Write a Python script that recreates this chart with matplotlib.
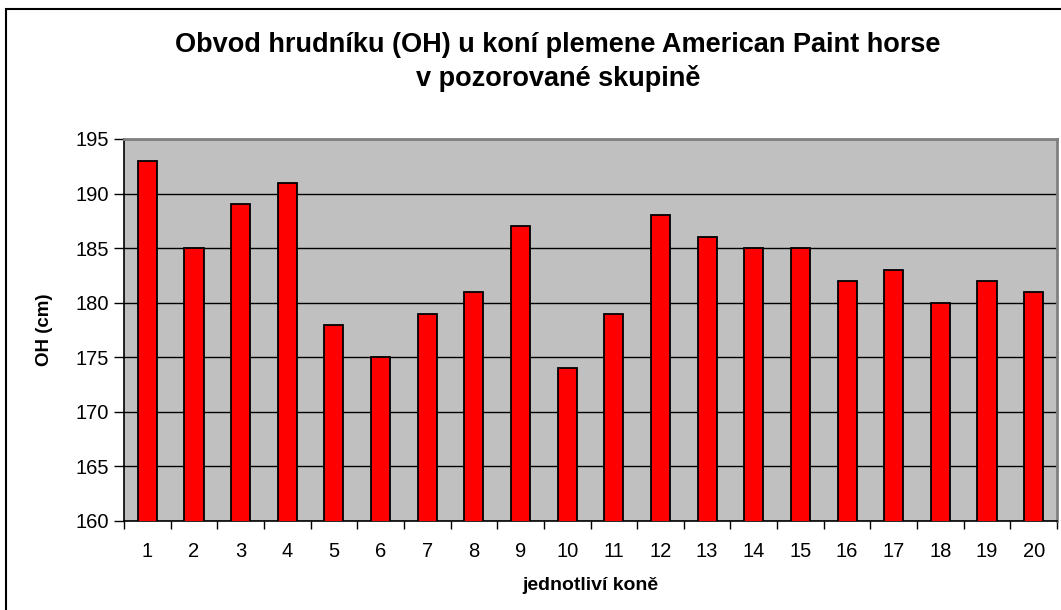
#Obvod hrudniku - bar chart recreation
import numpy as np
import matplotlib.pyplot as plt
from matplotlib.patches import Rectangle

#data
kone = [str(i) for i in range(1, 21)]
oh_cm = [193, 185, 189, 191, 178, 175, 179, 181, 187, 174,
         179, 188, 186, 185, 185, 182, 183, 180, 182, 181]
y_ticks = [160, 165, 170, 175, 180, 185, 190, 195]

plt.rcParams['font.family'] = ['Liberation Sans', 'DejaVu Sans']

fig = plt.figure(figsize=(10.61, 6.1), dpi=100)

#outer chart border
fig.patches.append(Rectangle((6 / 1061, -0.1), 1.2, 1.1 - 9 / 610,
                             transform=fig.transFigure, fill=False,
                             edgecolor='black', linewidth=1.5))

ax = fig.add_axes([124 / 1061, 1 - 521 / 610, (1057 - 124) / 1061, (521 - 139) / 610])
ax.set_facecolor('#c0c0c0')

x = np.arange(len(kone))
ax.bar(x, oh_cm, width=0.41, color='#ff0000', edgecolor='black', linewidth=1.3, zorder=3)

ax.set_xlim(-0.5, len(kone) - 0.5)
ax.set_ylim(160, 195)
ax.set_yticks(y_ticks)
ax.yaxis.grid(True, color='black', linewidth=1.0, zorder=1)
ax.set_axisbelow(True)

ax.set_xticks(x)
ax.set_xticklabels(kone)
ax.set_xticks(np.arange(-0.5, len(kone)), minor=True)
ax.tick_params(axis='x', which='major', length=0, pad=15, labelsize=14.5)
ax.tick_params(axis='x', which='minor', length=6, width=1, direction='out')
ax.tick_params(axis='y', length=7, width=1, direction='out', pad=4, labelsize=14.5)

for s in ['left', 'bottom']:
    ax.spines[s].set_color('black')
    ax.spines[s].set_linewidth(1.2)
for s in ['top', 'right']:
    ax.spines[s].set_color('#808080')
    ax.spines[s].set_linewidth(2)

ax.set_xlabel('jednotliví koně', fontsize=14, fontweight='bold', labelpad=12)
ax.set_ylabel('OH (cm)', fontsize=13.5, fontweight='bold', labelpad=16)

fig.text(0.526, 1 - 45 / 610, 'Obvod hrudníku (OH) u koní plemene American Paint horse',
         ha='center', va='center', fontsize=19.5, fontweight='bold')
fig.text(0.526, 1 - 78 / 610, 'v pozorované skupině',
         ha='center', va='center', fontsize=19.5, fontweight='bold')

fig.savefig('out.png', dpi=100)
